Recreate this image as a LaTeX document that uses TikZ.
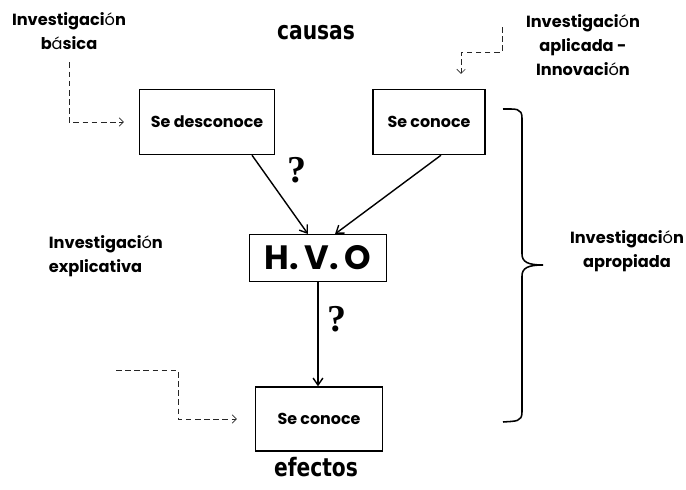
\documentclass[tikz,border=0pt]{standalone}
\usepackage{fontspec}
\setmainfont{Poppins}
\newfontfamily\condfont[FakeStretch=0.8]{DejaVu Sans Bold}
\newfontfamily\pregfont{Liberation Serif}
\usetikzlibrary{arrows.meta,positioning}
\newcommand{\fino}[1]{{\mdseries #1}}

\begin{document}
\begin{tikzpicture}[x=0.025cm, y=-0.025cm,
  caja/.style={rectangle, draw=black, line width=1pt, align=center,
    font=\fontsize{11.3}{13}\selectfont\bfseries},
  arr/.style={-{Straight Barb[length=5pt,width=7pt]}, line width=1pt},
  guia/.style={-{Straight Barb[length=3pt,width=6pt]}, thin, gray!30!black,
    dash pattern=on 4pt off 2.5pt},
  res/.style={font=\fontsize{11.5}{17}\selectfont\bfseries, align=center},
  titulo/.style={font=\condfont\fontsize{18}{20}\selectfont},
  preg/.style={font=\pregfont\fontsize{27}{28}\selectfont\bfseries}
]
\useasboundingbox (0,0) rectangle (686,489);

\node[caja, minimum width=3.375cm, minimum height=1.625cm] (desc) at (207,122) {Se desconoce};
\node[caja, minimum width=2.8cm, minimum height=1.625cm] (con) at (429,122) {Se conoce};
\node[caja, line width=0.7pt, minimum width=3.4cm, minimum height=1.175cm,
  font=\fontsize{24}{26}\selectfont\bfseries] (hvo) at (318,258) {H.\,V.\,O};
\node[caja, minimum width=3.175cm, minimum height=1.6cm] (efec) at (319,419) {Se conoce};

\node[titulo] (causas) at (316,33) {causas};
\node[titulo] (efectos) at (316,467) {efectos};

\node[res] (basica) at (69,31) {Investigaci\fino{ó}n\\b\fino{á}sica};
\node[res] (aplic) at (583,45) {Investigaci\fino{ó}n\\aplicada -\\Innovaci\fino{ó}n};
\node[res, align=left, anchor=west] (expl) at (44,256) {Investigaci\fino{ó}n\\explicativa};
\node[res] (aprop) at (627,251) {Investigaci\fino{ó}n\\apropiada};

\node[preg] (q1) at (297,170) {?};
\node[preg] (q2) at (337,319) {?};

\draw[arr] ([xshift=1.125cm]desc.south) -- ([xshift=-0.25cm]hvo.north);
\draw[arr] ([xshift=0.3cm]con.south) -- ([xshift=0.425cm]hvo.north);
\draw[arr] (hvo.south) -- (hvo.south |- efec.north);

% lineas guia
\coordinate (ap1) at (502,27);
\coordinate (ex1) at (116,370);
\draw[guia] ([yshift=-0.2cm]basica.south) |- ([xshift=-0.375cm]desc.west);
\draw[guia] (ap1) -- ++(0,25) -| ([xshift=0.8cm,yshift=0.375cm]con.north);
\draw[guia] (ex1) -- ++(62,0) |- ([xshift=-0.45cm]efec.west);

% llave
\draw[line width=1.1pt] (503,109) .. controls (516,109) and (522,108) .. (522,118)
  -- (522,254) .. controls (522,262) and (528,265) .. (543,265)
  .. controls (528,265) and (522,268) .. (522,276)
  -- (522,412) .. controls (522,422) and (516,421) .. (503,422);
\end{tikzpicture}
\end{document}
